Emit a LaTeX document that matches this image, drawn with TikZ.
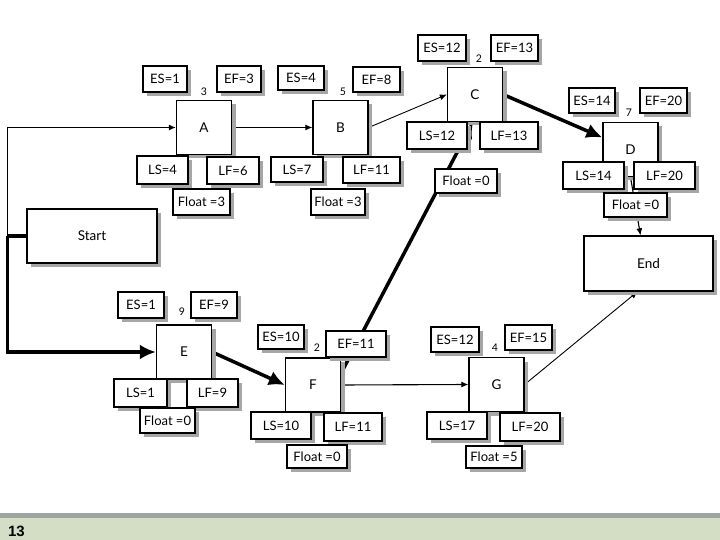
\documentclass[tikz,border=0pt]{standalone}
\usepackage{fontspec}
\setmainfont{Lato}
\newfontfamily\footfont{Liberation Sans}
\usetikzlibrary{shadows,arrows.meta,backgrounds,calc}
\definecolor{footgray}{RGB}{156,166,158}
\definecolor{footgreen}{RGB}{212,222,197}
\tikzset{
  shad/.style={drop shadow={shadow xshift=4pt,shadow yshift=-4pt,fill=black!35,opacity=1}},
  act/.style={draw,line width=1.3pt,fill=white,minimum width=55pt,minimum height=54pt,inner sep=0pt,shad,font=\fontsize{13.5}{15}\selectfont},
  term/.style={act,minimum width=130pt},
  lbl/.style={draw,line width=1.3pt,fill=white,inner sep=0pt,minimum height=26pt,shad,font=\fontsize{13}{15}\selectfont},
  num/.style={inner sep=0pt,font=\fontsize{10.5}{12}\selectfont},
  thinarrow/.style={line width=1.1pt,-{Latex[length=7pt,width=6pt]}},
  critarrow/.style={line width=3.5pt,-{Latex[length=16pt,width=15pt]}}
}
\begin{document}
\begin{tikzpicture}[x=1pt,y=-1pt]
\useasboundingbox (0,0) rectangle (720,540);
% footer
\fill[footgray] (0,513) rectangle (720,518);
\fill[footgreen] (0,518) rectangle (720,540);
\node[inner sep=0pt,font=\footfont\bfseries\fontsize{15}{17}\selectfont] (pg) at (16.5,531.5) {13};

% activity boxes
\node[term] (Start) at (92,236) {Start};
\node[term,minimum width=129pt,minimum height=55pt] (End) at (648.5,263.5) {End};
\node[act] (A) at (204,127.5) {A};
\node[act] (B) at (340.5,127.5) {B};
\node[act] (C) at (475,94.5) {C};
\node[act] (D) at (630.5,149.5) {D};
\node[act] (E) at (184,352) {E};
\node[act] (F) at (313,385) {F};
\node[act] (G) at (496.5,384.5) {G};

% A
\node[lbl,minimum width=44pt] (AES) at (165,79) {ES=1};
\node[lbl,minimum width=44pt] (AEF) at (239,79) {EF=3};
\node[num] (AN) at (204,92) {3};
\node[lbl,minimum width=51pt,minimum height=28pt] (ALS) at (162.5,170) {LS=4};
\node[lbl,minimum width=52pt,minimum height=27pt] (ALF) at (233,170.5) {LF=6};
\node[lbl,minimum width=57pt] (AFl) at (201.5,202) {Float =3};
% B
\node[lbl,minimum width=46pt,minimum height=24pt] (BES) at (301,78) {ES=4};
\node[lbl,minimum width=47pt,minimum height=25pt] (BEF) at (376.5,79.5) {EF=8};
\node[num] (BN) at (343,92) {5};
\node[lbl,minimum width=52pt,minimum height=25pt] (BLS) at (297,169.5) {LS=7};
\node[lbl,minimum width=57pt] (BLF) at (371.5,170) {LF=11};
\node[lbl,minimum width=54pt] (BFl) at (338,202) {Float =3};
% C
\node[lbl,minimum width=48pt] (CES) at (442,48) {ES=12};
\node[lbl,minimum width=47pt] (CEF) at (514.5,48) {EF=13};
\node[num] (CN) at (479,59) {2};
\node[lbl,minimum width=60pt,minimum height=27pt] (CLS) at (437,135.5) {LS=12};
\node[lbl,minimum width=58pt,minimum height=27pt] (CLF) at (509,135.5) {LF=13};
\node[lbl,minimum width=62pt,minimum height=24pt] (CFl) at (466,181) {Float =0};
% D
\node[lbl,minimum width=46pt,minimum height=25pt] (DES) at (592,100.5) {ES=14};
\node[lbl,minimum width=47pt,minimum height=25pt] (DEF) at (663.5,100.5) {EF=20};
\node[num] (DN) at (629,113) {7};
\node[lbl,minimum width=61pt,minimum height=27pt] (DLS) at (593.5,175.5) {LS=14};
\node[lbl,minimum width=61pt,minimum height=27pt] (DLF) at (664.5,175.5) {LF=20};
\node[lbl,minimum width=63pt,minimum height=24pt] (DFl) at (635.5,205) {Float =0};
% E
\node[lbl,minimum width=46pt] (EES) at (141,305) {ES=1};
\node[lbl,minimum width=46pt] (EEF) at (214,305) {EF=9};
\node[num] (EN) at (182,312) {9};
\node[lbl,minimum width=53pt,minimum height=28pt] (ELS) at (140.5,393) {LS=1};
\node[lbl,minimum width=51pt,minimum height=28pt] (ELF) at (212.5,393) {LF=9};
\node[lbl,minimum width=55pt,minimum height=25pt] (EFl) at (167.5,420.5) {Float =0};
% F
\node[lbl,minimum width=46pt,minimum height=24pt] (FES) at (281,337) {ES=10};
\node[lbl,minimum width=60pt] (FEF) at (356,344) {EF=11};
\node[num] (FN) at (317,348) {2};
\node[lbl,minimum width=60pt,minimum height=27pt] (FLS) at (281,425.5) {LS=10};
\node[lbl,minimum width=58pt,minimum height=28pt] (FLF) at (353,427) {LF=11};
\node[lbl,minimum width=60pt,minimum height=23pt] (FFl) at (317,456.5) {Float =0};
% G
\node[lbl,minimum width=48pt,minimum height=25pt] (GES) at (455,339.5) {ES=12};
\node[lbl,minimum width=47pt,minimum height=25pt] (GEF) at (528.5,337.5) {EF=15};
\node[num] (GN) at (495,348) {4};
\node[lbl,minimum width=60pt,minimum height=27pt] (GLS) at (457,425.5) {LS=17};
\node[lbl,minimum width=60pt,minimum height=28pt] (GLF) at (530,427) {LF=20};
\node[lbl,minimum width=56pt,minimum height=22pt] (GFl) at (494,457) {Float =5};

% connectors
\begin{pgfonlayer}{background}
\coordinate (split) at ($(Start.west)+(-19,0)$);
\draw[line width=3.5pt] (Start.west) -- (split);
\draw[critarrow] (split) |- (E.west);
\draw[thinarrow] (split) |- (A.west);
\draw[thinarrow] (A.east) -- (B.west);
\draw[thinarrow,line width=0.9pt] (B.east) -- (C.west);
\draw[critarrow] (C.east) -- ([yshift=12pt]D.west);
\draw[thinarrow] (D.south) -- ([xshift=-8pt]End.north);
\draw[critarrow] (E.east) -- (F.west);
\draw[critarrow] ([yshift=12pt]F.east) -- ([xshift=-2pt]C.south);
\draw[thinarrow] (F.east) -- (G.west);
\draw[thinarrow,line width=0.9pt] (G.east) -- ([xshift=-11pt]End.south);
\end{pgfonlayer}
\end{tikzpicture}
\end{document}
